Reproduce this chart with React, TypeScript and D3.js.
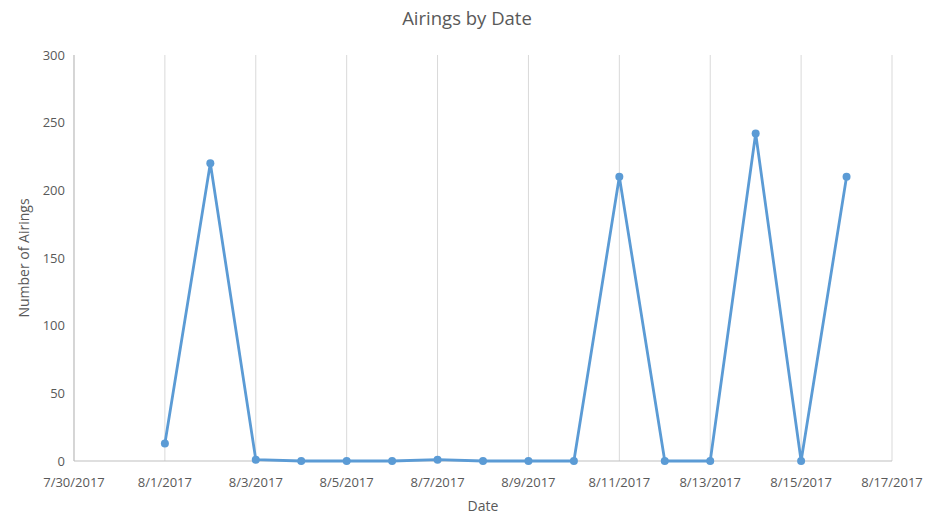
import React from 'react';
import * as d3 from 'd3';

const dates = [
  '2017-08-01', '2017-08-02', '2017-08-03', '2017-08-04', '2017-08-05', '2017-08-06',
  '2017-08-07', '2017-08-08', '2017-08-09', '2017-08-10', '2017-08-11', '2017-08-12',
  '2017-08-13', '2017-08-14', '2017-08-15', '2017-08-16',
];
const airings = [13, 220, 1, 0, 0, 0, 1, 0, 0, 0, 210, 0, 0, 242, 0, 210];
const yTicks = [0, 50, 100, 150, 200, 250, 300];
const xTickDates = [
  '2017-07-30', '2017-08-01', '2017-08-03', '2017-08-05', '2017-08-07',
  '2017-08-09', '2017-08-11', '2017-08-13', '2017-08-15', '2017-08-17',
];

const W = 934;
const H = 529;
const margin = { top: 55, right: 42, bottom: 68, left: 74 };
const font = '"Open Sans", "Liberation Sans", sans-serif';
const textColor = '#595959';

const parse = d3.utcParse('%Y-%m-%d');
const fmt = d3.utcFormat('%-m/%-d/%Y');

export default function App() {
  const xTicks = xTickDates.map(d => parse(d)!);
  const x = d3.scaleUtc()
    .domain([xTicks[0], xTicks[xTicks.length - 1]])
    .range([margin.left, W - margin.right]);
  const y = d3.scaleLinear()
    .domain([0, 300])
    .range([H - margin.bottom, margin.top]);

  const points = dates.map((d, i) => ({ date: parse(d)!, v: airings[i] }));
  const line = d3.line<{ date: Date; v: number }>()
    .x(d => x(d.date))
    .y(d => y(d.v));

  const y0 = y(0);

  return (
    <svg width={W} height={H} style={{ position: 'absolute', left: 0, top: 0, background: '#fff' }}>
      <rect width={W} height={H} fill="#fff" />
      {/* vertical gridlines */}
      {xTicks.map((t, i) => (
        <line key={i} x1={x(t)} x2={x(t)} y1={y(300)} y2={y0} stroke="#d9d9d9" strokeWidth={1} />
      ))}
      {/* axes */}
      <line x1={margin.left} x2={margin.left} y1={y(300)} y2={y0} stroke="#bfbfbf" />
      <line x1={margin.left} x2={W - margin.right} y1={y0} y2={y0} stroke="#bfbfbf" />
      {yTicks.map(t => (
        <text key={t} x={margin.left - 9} y={y(t)} dy="0.35em" textAnchor="end"
          fontFamily={font} fontSize={13} fill={textColor}>{t}</text>
      ))}
      {xTicks.map((t, i) => (
        <text key={i} x={x(t)} y={y0 + 21} dy="0.35em" textAnchor="middle"
          fontFamily={font} fontSize={13} fill={textColor}>{fmt(t)}</text>
      ))}
      <path d={line(points)!} fill="none" stroke="#5b9bd5" strokeWidth={2.8} strokeLinejoin="round" />
      {points.map((p, i) => (
        <circle key={i} cx={x(p.date)} cy={y(p.v)} r={4} fill="#5b9bd5" />
      ))}
      <text x={W / 2} y={19} dy="0.35em" textAnchor="middle" fontFamily={font} fontSize={18.5} fill={textColor}>
        Airings by Date
      </text>
      <text x={483} y={506} dy="0.35em" textAnchor="middle" fontFamily={font} fontSize={14} fill={textColor}>
        Date
      </text>
      <text transform={`translate(24,${(y(300) + y0) / 2}) rotate(-90)`} dy="0.35em" textAnchor="middle"
        fontFamily={font} fontSize={14} fill={textColor}>
        Number of Airings
      </text>
    </svg>
  );
}
